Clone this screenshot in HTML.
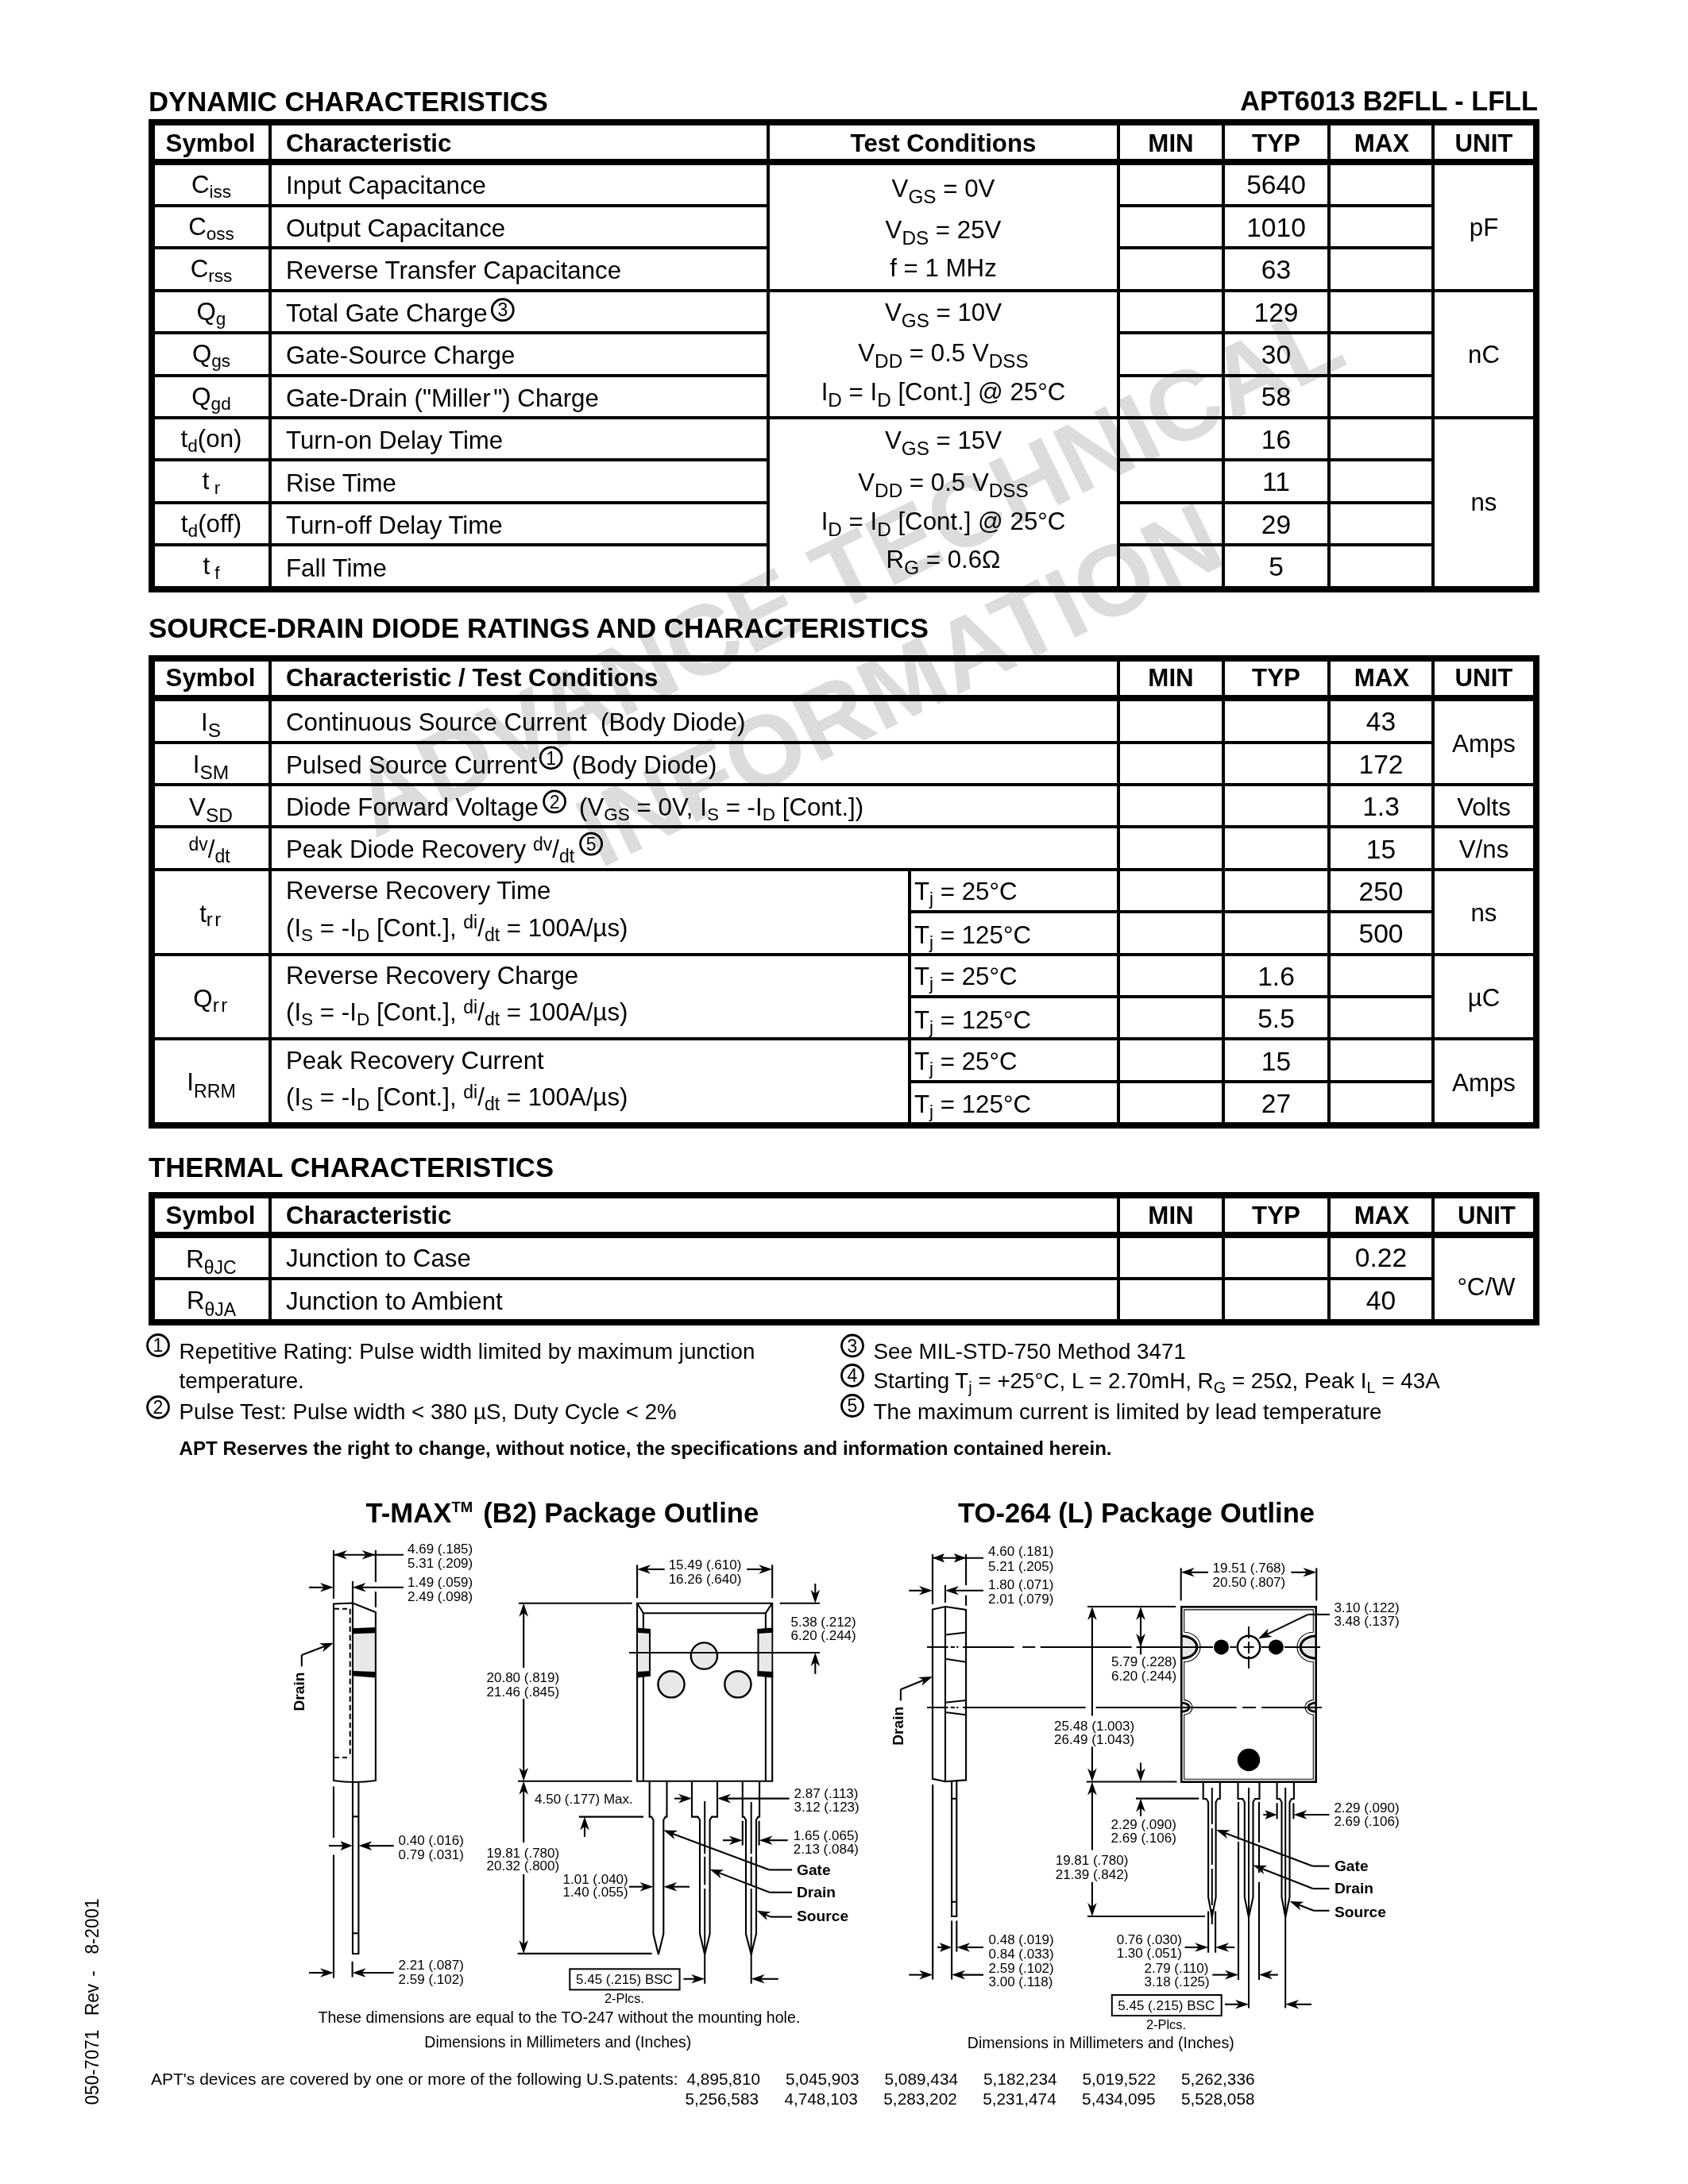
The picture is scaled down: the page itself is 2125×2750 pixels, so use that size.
<!DOCTYPE html>
<html lang="en"><head><meta charset="utf-8"><title>APT6013 B2FLL - LFLL</title>
<style>
html,body{margin:0;padding:0;background:#fff}
body{width:2125px;height:2750px;overflow:hidden;position:relative}
svg{position:absolute;left:0;top:0;display:block;filter:grayscale(1)}
text{font-family:"Liberation Sans",sans-serif;fill:#000;white-space:pre}
</style></head><body>
<svg width="2125" height="2750" viewBox="0 0 2125 2750">
<g transform="translate(471.5,1056) rotate(-26)" fill="#dcdcdc">
<text x="0" y="0" font-size="125" font-weight="bold" fill="#dcdcdc" style="fill:#dcdcdc">ADVANCE TECHNICAL</text>
<text x="238" y="159" font-size="126.3" font-weight="bold" fill="#dcdcdc" style="fill:#dcdcdc">INFORMATION</text>
</g>
<text x="187" y="139.8" font-size="34.7" font-weight="bold">DYNAMIC CHARACTERISTICS</text>
<text x="1936" y="138.6" font-size="34.3" text-anchor="end" font-weight="bold">APT6013 B2FLL - LFLL</text>
<text x="187" y="803.3" font-size="34.87" font-weight="bold">SOURCE-DRAIN DIODE RATINGS AND CHARACTERISTICS</text>
<text x="187" y="1481.8" font-size="34.7" font-weight="bold">THERMAL CHARACTERISTICS</text>
<rect x="187" y="150" width="1751" height="8" fill="#000"/>
<rect x="187" y="200" width="1751" height="8" fill="#000"/>
<rect x="187" y="738" width="1751" height="8" fill="#000"/>
<rect x="187" y="150" width="8" height="596" fill="#000"/>
<rect x="1930" y="150" width="8" height="596" fill="#000"/>
<rect x="338" y="158" width="4" height="580" fill="#000"/>
<rect x="965" y="158" width="4" height="580" fill="#000"/>
<rect x="1406" y="158" width="4" height="580" fill="#000"/>
<rect x="1538" y="158" width="4" height="580" fill="#000"/>
<rect x="1671" y="158" width="4" height="580" fill="#000"/>
<rect x="1802" y="158" width="4" height="580" fill="#000"/>
<rect x="195" y="257" width="770" height="4" fill="#000"/>
<rect x="1410" y="257" width="392" height="4" fill="#000"/>
<rect x="195" y="310" width="770" height="4" fill="#000"/>
<rect x="1410" y="310" width="392" height="4" fill="#000"/>
<rect x="195" y="364" width="1735" height="4" fill="#000"/>
<rect x="195" y="417" width="770" height="4" fill="#000"/>
<rect x="1410" y="417" width="392" height="4" fill="#000"/>
<rect x="195" y="471" width="770" height="4" fill="#000"/>
<rect x="1410" y="471" width="392" height="4" fill="#000"/>
<rect x="195" y="524" width="1735" height="4" fill="#000"/>
<rect x="195" y="577" width="770" height="4" fill="#000"/>
<rect x="1410" y="577" width="392" height="4" fill="#000"/>
<rect x="195" y="631" width="770" height="4" fill="#000"/>
<rect x="1410" y="631" width="392" height="4" fill="#000"/>
<rect x="195" y="684" width="770" height="4" fill="#000"/>
<rect x="1410" y="684" width="392" height="4" fill="#000"/>
<rect x="187" y="825" width="1751" height="8" fill="#000"/>
<rect x="187" y="875" width="1751" height="8" fill="#000"/>
<rect x="187" y="1413" width="1751" height="8" fill="#000"/>
<rect x="187" y="825" width="8" height="596" fill="#000"/>
<rect x="1930" y="825" width="8" height="596" fill="#000"/>
<rect x="338" y="833" width="4" height="580" fill="#000"/>
<rect x="1406" y="833" width="4" height="580" fill="#000"/>
<rect x="1538" y="833" width="4" height="580" fill="#000"/>
<rect x="1671" y="833" width="4" height="580" fill="#000"/>
<rect x="1802" y="833" width="4" height="580" fill="#000"/>
<rect x="1143" y="1097" width="4" height="316" fill="#000"/>
<rect x="195" y="933" width="1607" height="4" fill="#000"/>
<rect x="195" y="986" width="1735" height="4" fill="#000"/>
<rect x="195" y="1039" width="1735" height="4" fill="#000"/>
<rect x="195" y="1093" width="1735" height="4" fill="#000"/>
<rect x="195" y="1200" width="1735" height="4" fill="#000"/>
<rect x="195" y="1306" width="1735" height="4" fill="#000"/>
<rect x="1143" y="1146" width="659" height="4" fill="#000"/>
<rect x="1143" y="1253" width="659" height="4" fill="#000"/>
<rect x="1143" y="1360" width="659" height="4" fill="#000"/>
<rect x="187" y="1501" width="1751" height="8" fill="#000"/>
<rect x="187" y="1551" width="1751" height="8" fill="#000"/>
<rect x="187" y="1661" width="1751" height="8" fill="#000"/>
<rect x="187" y="1501" width="8" height="168" fill="#000"/>
<rect x="1930" y="1501" width="8" height="168" fill="#000"/>
<rect x="338" y="1509" width="4" height="152" fill="#000"/>
<rect x="1406" y="1509" width="4" height="152" fill="#000"/>
<rect x="1538" y="1509" width="4" height="152" fill="#000"/>
<rect x="1671" y="1509" width="4" height="152" fill="#000"/>
<rect x="1802" y="1509" width="4" height="152" fill="#000"/>
<rect x="195" y="1608" width="1607" height="4" fill="#000"/>
<text x="265" y="191" font-size="31.25" text-anchor="middle" font-weight="bold">Symbol</text>
<text x="360" y="191" font-size="31.25" font-weight="bold">Characteristic</text>
<text x="1187.5" y="191" font-size="31.25" text-anchor="middle" font-weight="bold">Test Conditions</text>
<text x="1474" y="191" font-size="31.25" text-anchor="middle" font-weight="bold">MIN</text>
<text x="1606.5" y="191" font-size="31.25" text-anchor="middle" font-weight="bold">TYP</text>
<text x="1739.5" y="191" font-size="31.25" text-anchor="middle" font-weight="bold">MAX</text>
<text x="1868" y="191" font-size="31.25" text-anchor="middle" font-weight="bold">UNIT</text>
<text x="265" y="864" font-size="31.25" text-anchor="middle" font-weight="bold">Symbol</text>
<text x="360" y="864" font-size="31.25" font-weight="bold">Characteristic / Test Conditions</text>
<text x="1474" y="864" font-size="31.25" text-anchor="middle" font-weight="bold">MIN</text>
<text x="1606.5" y="864" font-size="31.25" text-anchor="middle" font-weight="bold">TYP</text>
<text x="1739.5" y="864" font-size="31.25" text-anchor="middle" font-weight="bold">MAX</text>
<text x="1868" y="864" font-size="31.25" text-anchor="middle" font-weight="bold">UNIT</text>
<text x="265" y="1541" font-size="31.25" text-anchor="middle" font-weight="bold">Symbol</text>
<text x="360" y="1541" font-size="31.25" font-weight="bold">Characteristic</text>
<text x="1474" y="1541" font-size="31.25" text-anchor="middle" font-weight="bold">MIN</text>
<text x="1606.5" y="1541" font-size="31.25" text-anchor="middle" font-weight="bold">TYP</text>
<text x="1739.5" y="1541" font-size="31.25" text-anchor="middle" font-weight="bold">MAX</text>
<text x="1871.5" y="1541" font-size="31.25" text-anchor="middle" font-weight="bold">UNIT</text>
<text x="266" y="242.5" font-size="31.25" text-anchor="middle"><tspan font-size="31.25">C</tspan><tspan dy="6" font-size="22.6">iss</tspan></text>
<text x="266" y="295.9" font-size="31.25" text-anchor="middle"><tspan font-size="31.25">C</tspan><tspan dy="6" font-size="22.6">oss</tspan></text>
<text x="266" y="349.3" font-size="31.25" text-anchor="middle"><tspan font-size="31.25">C</tspan><tspan dy="6" font-size="22.6">rss</tspan></text>
<text x="266" y="402.7" font-size="31.25" text-anchor="middle"><tspan font-size="31.25">Q</tspan><tspan dy="6" font-size="22.6">g</tspan></text>
<text x="266" y="456.1" font-size="31.25" text-anchor="middle"><tspan font-size="31.25">Q</tspan><tspan dy="6" font-size="22.6">gs</tspan></text>
<text x="266" y="509.5" font-size="31.25" text-anchor="middle"><tspan font-size="31.25">Q</tspan><tspan dy="6" font-size="22.6">gd</tspan></text>
<text x="266" y="562.9" font-size="31.25" text-anchor="middle"><tspan font-size="31.25">t</tspan><tspan dy="6" font-size="22.6">d</tspan><tspan dy="-6" font-size="31.25">(on)</tspan></text>
<text x="266" y="616.3" font-size="31.25" text-anchor="middle"><tspan font-size="31.25">t</tspan><tspan dy="6" font-size="22.6"> r</tspan></text>
<text x="266" y="669.7" font-size="31.25" text-anchor="middle"><tspan font-size="31.25">t</tspan><tspan dy="6" font-size="22.6">d</tspan><tspan dy="-6" font-size="31.25">(off)</tspan></text>
<text x="266" y="723.1" font-size="31.25" text-anchor="middle"><tspan font-size="31.25">t</tspan><tspan dy="6" font-size="22.6"> f</tspan></text>
<text x="360" y="244.1" font-size="31.25">Input Capacitance</text>
<text x="360" y="297.6" font-size="31.25">Output Capacitance</text>
<text x="360" y="351.1" font-size="31.25">Reverse Transfer Capacitance</text>
<text x="360" y="404.6" font-size="31.25">Total Gate Charge</text>
<text x="360" y="458.1" font-size="31.25">Gate-Source Charge</text>
<text x="360" y="511.6" font-size="31.25">Gate-Drain ("Miller<tspan dx="3.5">")</tspan> Charge</text>
<text x="360" y="565.1" font-size="31.25">Turn-on Delay Time</text>
<text x="360" y="618.6" font-size="31.25">Rise Time</text>
<text x="360" y="672.1" font-size="31.25">Turn-off Delay Time</text>
<text x="360" y="725.6" font-size="31.25">Fall Time</text>
<text x="1606.5" y="244.2" font-size="33.6" text-anchor="middle">5640</text>
<text x="1606.5" y="297.65" font-size="33.6" text-anchor="middle">1010</text>
<text x="1606.5" y="351.1" font-size="33.6" text-anchor="middle">63</text>
<text x="1606.5" y="404.55" font-size="33.6" text-anchor="middle">129</text>
<text x="1606.5" y="458" font-size="33.6" text-anchor="middle">30</text>
<text x="1606.5" y="511.45" font-size="33.6" text-anchor="middle">58</text>
<text x="1606.5" y="564.9" font-size="33.6" text-anchor="middle">16</text>
<text x="1606.5" y="618.35" font-size="33.6" text-anchor="middle">11</text>
<text x="1606.5" y="671.8" font-size="33.6" text-anchor="middle">29</text>
<text x="1606.5" y="725.25" font-size="33.6" text-anchor="middle">5</text>
<text x="1868" y="296.8" font-size="31.25" text-anchor="middle">pF</text>
<text x="1868" y="457.4" font-size="31.25" text-anchor="middle">nC</text>
<text x="1868" y="643" font-size="31.25" text-anchor="middle">ns</text>
<text x="1187.5" y="248.1" font-size="31.25" text-anchor="middle"><tspan font-size="31.25">V</tspan><tspan dy="8" font-size="24.3">GS</tspan><tspan dy="-8" font-size="31.25"> = 0V</tspan></text>
<text x="1187.5" y="299.8" font-size="31.25" text-anchor="middle"><tspan font-size="31.25">V</tspan><tspan dy="8" font-size="24.3">DS</tspan><tspan dy="-8" font-size="31.25"> = 25V</tspan></text>
<text x="1187.5" y="348.3" font-size="31.25" text-anchor="middle">f = 1 MHz</text>
<text x="1187.5" y="403.8" font-size="31.25" text-anchor="middle"><tspan font-size="31.25">V</tspan><tspan dy="8" font-size="24.3">GS</tspan><tspan dy="-8" font-size="31.25"> = 10V</tspan></text>
<text x="1187.5" y="455" font-size="31.25" text-anchor="middle"><tspan font-size="31.25">V</tspan><tspan dy="8" font-size="24.3">DD</tspan><tspan dy="-8" font-size="31.25"> = 0.5 V</tspan><tspan dy="8" font-size="24.3">DSS</tspan></text>
<text x="1187.5" y="504" font-size="31.25" text-anchor="middle"><tspan font-size="31.25">I</tspan><tspan dy="8" font-size="24.3">D</tspan><tspan dy="-8" font-size="31.25"> = I</tspan><tspan dy="8" font-size="24.3">D</tspan><tspan dy="-8" font-size="31.25"> [Cont.] @ 25°C</tspan></text>
<text x="1187.5" y="565.3" font-size="31.25" text-anchor="middle"><tspan font-size="31.25">V</tspan><tspan dy="8" font-size="24.3">GS</tspan><tspan dy="-8" font-size="31.25"> = 15V</tspan></text>
<text x="1187.5" y="617.6" font-size="31.25" text-anchor="middle"><tspan font-size="31.25">V</tspan><tspan dy="8" font-size="24.3">DD</tspan><tspan dy="-8" font-size="31.25"> = 0.5 V</tspan><tspan dy="8" font-size="24.3">DSS</tspan></text>
<text x="1187.5" y="666.6" font-size="31.25" text-anchor="middle"><tspan font-size="31.25">I</tspan><tspan dy="8" font-size="24.3">D</tspan><tspan dy="-8" font-size="31.25"> = I</tspan><tspan dy="8" font-size="24.3">D</tspan><tspan dy="-8" font-size="31.25"> [Cont.] @ 25°C</tspan></text>
<text x="1187.5" y="714.6" font-size="31.25" text-anchor="middle"><tspan font-size="31.25">R</tspan><tspan dy="8" font-size="24.3">G</tspan><tspan dy="-8" font-size="31.25"> = 0.6Ω</tspan></text>
<text x="265.5" y="919.7" font-size="31.25" text-anchor="middle"><tspan font-size="31.25">I</tspan><tspan dy="8.2" font-size="24.5">S</tspan></text>
<text x="265.5" y="973.1" font-size="31.25" text-anchor="middle"><tspan font-size="31.25">I</tspan><tspan dy="8.2" font-size="24.5">SM</tspan></text>
<text x="265.5" y="1026.5" font-size="31.25" text-anchor="middle"><tspan font-size="31.25">V</tspan><tspan dy="8.2" font-size="24.5">SD</tspan></text>
<text x="263.5" y="1080.3" font-size="31.25" text-anchor="middle"><tspan dy="-9.6" font-size="23">dv</tspan><tspan dy="9.6" font-size="31.25">/</tspan><tspan dy="6" font-size="23">dt</tspan></text>
<text x="266" y="1161" font-size="31.25" text-anchor="middle"><tspan font-size="31.25">t</tspan><tspan dy="4.5" font-size="24" letter-spacing="2.5">rr</tspan></text>
<text x="266" y="1268.4" font-size="31.25" text-anchor="middle"><tspan font-size="31.25">Q</tspan><tspan dy="5.3" font-size="24" letter-spacing="2.5">rr</tspan></text>
<text x="266" y="1373.2" font-size="31.25" text-anchor="middle"><tspan font-size="31.25">I</tspan><tspan dy="8.9" font-size="23.2">RRM</tspan></text>
<text x="360" y="920.1" font-size="31.25">Continuous Source Current  (Body Diode)</text>
<text x="360" y="973.5" font-size="31.25">Pulsed Source Current</text>
<text x="720" y="973.5" font-size="31.25">(Body Diode)</text>
<circle cx="693.7" cy="954.3" r="13.5" fill="none" stroke="#000" stroke-width="2.8"/>
<text x="693.7" y="962.58" font-size="23" text-anchor="middle">1</text>
<circle cx="698.1" cy="1009.4" r="13.5" fill="none" stroke="#000" stroke-width="2.8"/>
<text x="698.1" y="1017.68" font-size="23" text-anchor="middle">2</text>
<circle cx="744.1" cy="1062.6" r="13.5" fill="none" stroke="#000" stroke-width="2.8"/>
<text x="744.1" y="1070.88" font-size="23" text-anchor="middle">5</text>
<circle cx="632.8" cy="390.2" r="13.5" fill="none" stroke="#000" stroke-width="2.8"/>
<text x="632.8" y="398.48" font-size="23" text-anchor="middle">3</text>
<text x="360" y="1026.9" font-size="31.25">Diode Forward Voltage</text>
<text x="729" y="1026.9" font-size="31.25"><tspan font-size="31.25">(V</tspan><tspan dy="6" font-size="22.6">GS</tspan><tspan dy="-6" font-size="31.25"> = 0V, I</tspan><tspan dy="6" font-size="22.6">S</tspan><tspan dy="-6" font-size="31.25"> = -I</tspan><tspan dy="6" font-size="22.6">D</tspan><tspan dy="-6" font-size="31.25"> [Cont.])</tspan></text>
<text x="360" y="1080.3" font-size="31.25"><tspan font-size="31.25">Peak Diode Recovery </tspan><tspan dy="-9.6" font-size="23">dv</tspan><tspan dy="9.6" font-size="31.25">/</tspan><tspan dy="6" font-size="23">dt</tspan></text>
<text x="360" y="1132.4" font-size="31.25">Reverse Recovery Time</text>
<text x="360" y="1178.6" font-size="31.25"><tspan font-size="31.25">(I</tspan><tspan dy="6" font-size="22.6">S</tspan><tspan dy="-6" font-size="31.25"> = -I</tspan><tspan dy="6" font-size="22.6">D</tspan><tspan dy="-6" font-size="31.25"> [Cont.], </tspan><tspan dy="-9.6" font-size="23">di</tspan><tspan dy="9.6" font-size="31.25">/</tspan><tspan dy="6" font-size="23">dt</tspan><tspan dy="-6" font-size="31.25"> = 100A/µs)</tspan></text>
<text x="1151" y="1133.1" font-size="31.25"><tspan font-size="31.25">T</tspan><tspan dy="6" font-size="22.6">j</tspan><tspan dy="-6" font-size="31.25"> = 25°C</tspan></text>
<text x="1151" y="1187.7" font-size="31.25"><tspan font-size="31.25">T</tspan><tspan dy="6" font-size="22.6">j</tspan><tspan dy="-6" font-size="31.25"> = 125°C</tspan></text>
<text x="360" y="1239.2" font-size="31.25">Reverse Recovery Charge</text>
<text x="360" y="1285.4" font-size="31.25"><tspan font-size="31.25">(I</tspan><tspan dy="6" font-size="22.6">S</tspan><tspan dy="-6" font-size="31.25"> = -I</tspan><tspan dy="6" font-size="22.6">D</tspan><tspan dy="-6" font-size="31.25"> [Cont.], </tspan><tspan dy="-9.6" font-size="23">di</tspan><tspan dy="9.6" font-size="31.25">/</tspan><tspan dy="6" font-size="23">dt</tspan><tspan dy="-6" font-size="31.25"> = 100A/µs)</tspan></text>
<text x="1151" y="1239.9" font-size="31.25"><tspan font-size="31.25">T</tspan><tspan dy="6" font-size="22.6">j</tspan><tspan dy="-6" font-size="31.25"> = 25°C</tspan></text>
<text x="1151" y="1294.5" font-size="31.25"><tspan font-size="31.25">T</tspan><tspan dy="6" font-size="22.6">j</tspan><tspan dy="-6" font-size="31.25"> = 125°C</tspan></text>
<text x="360" y="1346" font-size="31.25">Peak Recovery Current</text>
<text x="360" y="1392.2" font-size="31.25"><tspan font-size="31.25">(I</tspan><tspan dy="6" font-size="22.6">S</tspan><tspan dy="-6" font-size="31.25"> = -I</tspan><tspan dy="6" font-size="22.6">D</tspan><tspan dy="-6" font-size="31.25"> [Cont.], </tspan><tspan dy="-9.6" font-size="23">di</tspan><tspan dy="9.6" font-size="31.25">/</tspan><tspan dy="6" font-size="23">dt</tspan><tspan dy="-6" font-size="31.25"> = 100A/µs)</tspan></text>
<text x="1151" y="1346.7" font-size="31.25"><tspan font-size="31.25">T</tspan><tspan dy="6" font-size="22.6">j</tspan><tspan dy="-6" font-size="31.25"> = 25°C</tspan></text>
<text x="1151" y="1401.3" font-size="31.25"><tspan font-size="31.25">T</tspan><tspan dy="6" font-size="22.6">j</tspan><tspan dy="-6" font-size="31.25"> = 125°C</tspan></text>
<text x="1738.5" y="920.2" font-size="33.6" text-anchor="middle">43</text>
<text x="1738.5" y="973.65" font-size="33.6" text-anchor="middle">172</text>
<text x="1738.5" y="1027.1" font-size="33.6" text-anchor="middle">1.3</text>
<text x="1738.5" y="1080.55" font-size="33.6" text-anchor="middle">15</text>
<text x="1738.5" y="1134" font-size="33.6" text-anchor="middle">250</text>
<text x="1738.5" y="1187.45" font-size="33.6" text-anchor="middle">500</text>
<text x="1606.5" y="1240.9" font-size="33.6" text-anchor="middle">1.6</text>
<text x="1606.5" y="1294.35" font-size="33.6" text-anchor="middle">5.5</text>
<text x="1606.5" y="1347.8" font-size="33.6" text-anchor="middle">15</text>
<text x="1606.5" y="1401.25" font-size="33.6" text-anchor="middle">27</text>
<text x="1868" y="946.8" font-size="31.25" text-anchor="middle">Amps</text>
<text x="1868" y="1026.9" font-size="31.25" text-anchor="middle">Volts</text>
<text x="1868" y="1080.3" font-size="31.25" text-anchor="middle">V/ns</text>
<text x="1868" y="1160.4" font-size="31.25" text-anchor="middle">ns</text>
<text x="1868" y="1267.2" font-size="31.25" text-anchor="middle">µC</text>
<text x="1868" y="1374" font-size="31.25" text-anchor="middle">Amps</text>
<text x="266" y="1595.5" font-size="31.25" text-anchor="middle"><tspan font-size="31.25">R</tspan><tspan dy="8.9" font-size="23">θJC</tspan></text>
<text x="266" y="1648.3" font-size="31.25" text-anchor="middle"><tspan font-size="31.25">R</tspan><tspan dy="8.9" font-size="23">θJA</tspan></text>
<text x="360" y="1595.1" font-size="31.25">Junction to Case</text>
<text x="360" y="1648.5" font-size="31.25">Junction to Ambient</text>
<text x="1738.5" y="1595.2" font-size="33.6" text-anchor="middle">0.22</text>
<text x="1738.5" y="1648.6" font-size="33.6" text-anchor="middle">40</text>
<text x="1871" y="1630.5" font-size="31.25" text-anchor="middle">°C/W</text>
<circle cx="199" cy="1694" r="13.5" fill="none" stroke="#000" stroke-width="2.8"/>
<text x="199" y="1702.28" font-size="23" text-anchor="middle">1</text>
<text x="225.5" y="1710.7" font-size="27.75">Repetitive Rating: Pulse width limited by maximum junction</text>
<text x="225.5" y="1748.2" font-size="27.75">temperature.</text>
<circle cx="199" cy="1772" r="13.5" fill="none" stroke="#000" stroke-width="2.8"/>
<text x="199" y="1780.28" font-size="23" text-anchor="middle">2</text>
<text x="225.5" y="1787" font-size="27.75">Pulse Test: Pulse width &lt; 380 µS, Duty Cycle &lt; 2%</text>
<circle cx="1073" cy="1694.5" r="13.5" fill="none" stroke="#000" stroke-width="2.8"/>
<text x="1073" y="1702.78" font-size="23" text-anchor="middle">3</text>
<text x="1099.5" y="1710.7" font-size="27.75">See MIL-STD-750 Method 3471</text>
<circle cx="1073" cy="1732" r="13.5" fill="none" stroke="#000" stroke-width="2.8"/>
<text x="1073" y="1740.28" font-size="23" text-anchor="middle">4</text>
<text x="1099.5" y="1748.2" font-size="27.75"><tspan font-size="27.75">Starting T</tspan><tspan dy="6" font-size="20">j</tspan><tspan dy="-6" font-size="27.75"> = +25°C, L = 2.70mH, R</tspan><tspan dy="6" font-size="20">G</tspan><tspan dy="-6" font-size="27.75"> = 25Ω, Peak I</tspan><tspan dy="6" font-size="20">L</tspan><tspan dy="-6" font-size="27.75"> = 43A</tspan></text>
<circle cx="1073" cy="1770" r="13.5" fill="none" stroke="#000" stroke-width="2.8"/>
<text x="1073" y="1778.28" font-size="23" text-anchor="middle">5</text>
<text x="1099.5" y="1787.3" font-size="27.75">The maximum current is limited by lead temperature</text>
<text x="225.5" y="1832" font-size="24.1" font-weight="bold">APT Reserves the right to change, without notice, the specifications and information contained herein.</text>
<text x="190" y="2624.8" font-size="21">APT's devices are covered by one or more of the following U.S.patents:</text>
<text x="864.5" y="2625" font-size="20.8">4,895,810</text>
<text x="862.5" y="2649.5" font-size="20.8">5,256,583</text>
<text x="989" y="2625" font-size="20.8">5,045,903</text>
<text x="987.4" y="2649.5" font-size="20.8">4,748,103</text>
<text x="1113.5" y="2625" font-size="20.8">5,089,434</text>
<text x="1112.3" y="2649.5" font-size="20.8">5,283,202</text>
<text x="1238" y="2625" font-size="20.8">5,182,234</text>
<text x="1237.2" y="2649.5" font-size="20.8">5,231,474</text>
<text x="1362.5" y="2625" font-size="20.8">5,019,522</text>
<text x="1362.1" y="2649.5" font-size="20.8">5,434,095</text>
<text x="1487" y="2625" font-size="20.8">5,262,336</text>
<text x="1487" y="2649.5" font-size="20.8">5,528,058</text>
<g transform="translate(124.2,2650.6) rotate(-90) scale(0.925,1)">
<text x="0" y="0" font-size="24.3">050-7071</text>
<text x="121.7" y="0" font-size="24.3">Rev</text>
<text x="175.1" y="0" font-size="24.3">-</text>
<text x="205.6" y="0" font-size="24.3">8-2001</text>
</g>
<text x="460.5" y="1916.6" font-size="34.7" font-weight="bold">T-MAX<tspan font-size="18.5" dy="-12.6">TM</tspan><tspan dy="12.6" dx="3.5"> (B2) Package Outline</tspan></text>
<text x="1206" y="1916.8" font-size="34.6" font-weight="bold">TO-264 (L) Package Outline</text>
<line x1="420" y1="1952" x2="420" y2="2013" stroke="#000" stroke-width="2.1"/>
<line x1="472.9" y1="1952" x2="472.9" y2="1992" stroke="#000" stroke-width="2.1"/>
<line x1="472.9" y1="2004" x2="472.9" y2="2024" stroke="#000" stroke-width="2.1"/>
<polygon points="444,2056 472.9,2055 472.9,2106 444,2105" fill="#e8e8e8"/>
<polygon points="444,2050.2 472.9,2049 472.9,2056.3 444,2057.3" fill="#000"/>
<polygon points="444,2104 472.9,2105 472.9,2112.5 444,2110.2" fill="#000"/>
<path d="M420 2242 L420 2019.4 L444 2018.5 L472.9 2030 L472.9 2242 Q446 2246 420 2242 Z" stroke="#000" stroke-width="2.1" fill="none"/>
<line x1="444" y1="1991" x2="444" y2="2243" stroke="#000" stroke-width="2.1"/>
<line x1="440.7" y1="2025.8" x2="440.7" y2="2213" stroke="#000" stroke-width="2" stroke-dasharray="7 4"/>
<line x1="421" y1="2025.8" x2="440" y2="2025.8" stroke="#000" stroke-width="2" stroke-dasharray="6 4"/>
<line x1="421" y1="2213" x2="440" y2="2213" stroke="#000" stroke-width="2" stroke-dasharray="6 4"/>
<path d="M444 2243 L444 2460 L451.4 2460 L451.4 2243" stroke="#000" stroke-width="2.1" fill="none" stroke-linejoin="miter"/>
<line x1="443.6" y1="2287.3" x2="451.4" y2="2287.3" stroke="#000" stroke-width="2.1"/>
<line x1="443.6" y1="2434.3" x2="451.4" y2="2434.3" stroke="#000" stroke-width="2.1"/>
<line x1="420" y1="2249.4" x2="420" y2="2314" stroke="#000" stroke-width="2.1"/>
<line x1="420" y1="2335.5" x2="420" y2="2490.7" stroke="#000" stroke-width="2.1"/>
<line x1="443.6" y1="2469.8" x2="443.6" y2="2489.5" stroke="#000" stroke-width="2.1"/>
<line x1="420" y1="1957.8" x2="508" y2="1957.8" stroke="#000" stroke-width="2.1"/>
<polygon points="420.0,1957.8 437.0,1963.6 432.0,1957.8 437.0,1952.0" fill="#000"/>
<polygon points="472.7,1957.8 455.7,1952.0 460.7,1957.8 455.7,1963.6" fill="#000"/>
<text x="513" y="1956.2" font-size="17">4.69 (.185)</text>
<text x="513" y="1973.8" font-size="17">5.31 (.209)</text>
<line x1="389" y1="1998.8" x2="414" y2="1998.8" stroke="#000" stroke-width="2.1"/>
<polygon points="420.0,1998.8 403.0,1993.0 408.0,1998.8 403.0,2004.6" fill="#000"/>
<line x1="508" y1="1998.8" x2="449.6" y2="1998.8" stroke="#000" stroke-width="2.1"/>
<polygon points="443.6,1998.8 460.6,2004.6 455.6,1998.8 460.6,1993.0" fill="#000"/>
<text x="513" y="1997.7" font-size="17">1.49 (.059)</text>
<text x="513" y="2016" font-size="17">2.49 (.098)</text>
<line x1="414" y1="2324.1" x2="437.6" y2="2324.1" stroke="#000" stroke-width="2.1"/>
<polygon points="443.6,2324.1 428.6,2318.3 431.6,2324.1 428.6,2329.9" fill="#000"/>
<line x1="495.7" y1="2324.1" x2="457.4" y2="2324.1" stroke="#000" stroke-width="2.1"/>
<polygon points="451.4,2324.1 468.4,2329.9 463.4,2324.1 468.4,2318.3" fill="#000"/>
<text x="501.6" y="2322.7" font-size="17">0.40 (.016)</text>
<text x="501.6" y="2341" font-size="17">0.79 (.031)</text>
<line x1="389" y1="2484" x2="414" y2="2484" stroke="#000" stroke-width="2.1"/>
<polygon points="420.0,2484.0 403.0,2478.2 408.0,2484.0 403.0,2489.8" fill="#000"/>
<line x1="495.7" y1="2484" x2="449.6" y2="2484" stroke="#000" stroke-width="2.1"/>
<polygon points="443.6,2484.0 460.6,2489.8 455.6,2484.0 460.6,2478.2" fill="#000"/>
<text x="501.6" y="2480.1" font-size="17">2.21 (.087)</text>
<text x="501.6" y="2498.1" font-size="17">2.59 (.102)</text>
<text transform="translate(382.5,2154.5) rotate(-90)" font-size="19.2" font-weight="bold">Drain</text>
<path d="M379.8 2098.3 L379.8 2084" stroke="#000" stroke-width="2.1" fill="none" stroke-linejoin="miter"/>
<line x1="379.8" y1="2084" x2="414.392" y2="2070.83" stroke="#000" stroke-width="2.1"/>
<polygon points="420.0,2068.7 402.0,2069.3 408.8,2073.0 406.2,2080.2" fill="#000"/>
<line x1="653" y1="2018.7" x2="795.7" y2="2018.7" stroke="#000" stroke-width="2.1"/>
<line x1="652" y1="2242.8" x2="795.7" y2="2242.8" stroke="#000" stroke-width="2.1"/>
<line x1="659.2" y1="2024" x2="659.2" y2="2100" stroke="#000" stroke-width="2.1"/>
<line x1="659.2" y1="2139" x2="659.2" y2="2237" stroke="#000" stroke-width="2.1"/>
<polygon points="659.2,2018.7 653.4,2035.7 659.2,2030.7 665.0,2035.7" fill="#000"/>
<polygon points="659.2,2242.8 665.0,2225.8 659.2,2230.8 653.4,2225.8" fill="#000"/>
<text x="612.5" y="2118.1" font-size="17">20.80 (.819)</text>
<text x="612.5" y="2135.7" font-size="17">21.46 (.845)</text>
<line x1="659.2" y1="2249" x2="659.2" y2="2320" stroke="#000" stroke-width="2.1"/>
<line x1="659.2" y1="2360" x2="659.2" y2="2454" stroke="#000" stroke-width="2.1"/>
<polygon points="659.2,2242.8 653.4,2259.8 659.2,2254.8 665.0,2259.8" fill="#000"/>
<polygon points="659.2,2459.9 665.0,2442.9 659.2,2447.9 653.4,2442.9" fill="#000"/>
<text x="612.5" y="2338.6" font-size="17">19.81 (.780)</text>
<text x="612.5" y="2355.4" font-size="17">20.32 (.800)</text>
<line x1="651.6" y1="2459.9" x2="820.6" y2="2459.9" stroke="#000" stroke-width="2.1"/>
<text x="673" y="2271.1" font-size="17">4.50 (.177) Max.</text>
<line x1="728.8" y1="2287.6" x2="810" y2="2287.6" stroke="#000" stroke-width="2.1"/>
<line x1="736" y1="2313" x2="736" y2="2293.6" stroke="#000" stroke-width="2.1"/>
<polygon points="736.0,2287.6 730.2,2304.6 736.0,2299.6 741.8,2304.6" fill="#000"/>
<text x="708.5" y="2371.5" font-size="17">1.01 (.040)</text>
<text x="708.5" y="2388.3" font-size="17">1.40 (.055)</text>
<line x1="792" y1="2375.7" x2="816.5" y2="2375.7" stroke="#000" stroke-width="2.1"/>
<polygon points="822.5,2375.7 805.5,2369.9 810.5,2375.7 805.5,2381.5" fill="#000"/>
<line x1="868" y1="2375.7" x2="841.3" y2="2375.7" stroke="#000" stroke-width="2.1"/>
<polygon points="835.3,2375.7 852.3,2381.5 847.3,2375.7 852.3,2369.9" fill="#000"/>
<line x1="802.1" y1="1970.3" x2="802.1" y2="2012.3" stroke="#000" stroke-width="2.1"/>
<line x1="972.2" y1="1970.3" x2="972.2" y2="2012.3" stroke="#000" stroke-width="2.1"/>
<line x1="836.7" y1="1976" x2="808.1" y2="1976" stroke="#000" stroke-width="2.1"/>
<polygon points="802.1,1976.0 819.1,1981.8 814.1,1976.0 819.1,1970.2" fill="#000"/>
<line x1="940.2" y1="1976" x2="966.2" y2="1976" stroke="#000" stroke-width="2.1"/>
<polygon points="972.2,1976.0 955.2,1970.2 960.2,1976.0 955.2,1981.8" fill="#000"/>
<text x="887.5" y="1976.3" font-size="17" text-anchor="middle">15.49 (.610)</text>
<text x="887.5" y="1993.5" font-size="17" text-anchor="middle">16.26 (.640)</text>
<path d="M802.1 2018.7 L972.2 2018.7 L972.2 2242.8 L802.1 2242.8 Z" stroke="#000" stroke-width="2.1" fill="none" stroke-linejoin="miter"/>
<path d="M809.9 2242.8 L809.9 2031.2 L963.9 2031.2 L963.9 2242.8" stroke="#000" stroke-width="2.1" fill="none" stroke-linejoin="miter"/>
<line x1="802.1" y1="2018.7" x2="809.9" y2="2031.2" stroke="#000" stroke-width="2.1"/>
<line x1="972.2" y1="2018.7" x2="963.9" y2="2031.2" stroke="#000" stroke-width="2.1"/>
<rect x="803" y="2054" width="14.5" height="52" fill="#e8e8e8"/>
<rect x="955" y="2054" width="16.3" height="52" fill="#e8e8e8"/>
<polygon points="801,2049.4 819,2051 819,2057 801,2055.8" fill="#000"/>
<polygon points="801,2105 819,2104 819,2110.6 801,2112.7" fill="#000"/>
<polygon points="953.5,2051 973.2,2049.4 973.2,2055.8 953.5,2057" fill="#000"/>
<polygon points="953.5,2104 973.2,2105 973.2,2112.7 953.5,2110.6" fill="#000"/>
<line x1="818" y1="2051" x2="818" y2="2110.6" stroke="#000" stroke-width="2"/>
<line x1="954.5" y1="2051" x2="954.5" y2="2110.6" stroke="#000" stroke-width="2"/>
<circle cx="886.4" cy="2085" r="16.6" fill="#e8e8e8" stroke="#000" stroke-width="2.4"/>
<circle cx="845" cy="2120.8" r="16.6" fill="#e8e8e8" stroke="#000" stroke-width="2.4"/>
<circle cx="928.9" cy="2120.8" r="16.6" fill="#e8e8e8" stroke="#000" stroke-width="2.4"/>
<line x1="792.1" y1="2081" x2="1032" y2="2081" stroke="#000" stroke-width="2"/>
<line x1="981.7" y1="2018.7" x2="1032" y2="2018.7" stroke="#000" stroke-width="2.1"/>
<line x1="1026.3" y1="1994" x2="1026.3" y2="2012.7" stroke="#000" stroke-width="2.1"/>
<polygon points="1026.3,2018.7 1032.1,2001.7 1026.3,2006.7 1020.5,2001.7" fill="#000"/>
<line x1="1026.3" y1="2107.8" x2="1026.3" y2="2087" stroke="#000" stroke-width="2.1"/>
<polygon points="1026.3,2081.0 1020.5,2098.0 1026.3,2093.0 1032.1,2098.0" fill="#000"/>
<text x="995.5" y="2047.9" font-size="17">5.38 (.212)</text>
<text x="995.5" y="2064.7" font-size="17">6.20 (.244)</text>
<path d="M817.7 2242.8 L817.7 2287.6 L820 2287.6 L822.5 2291.5 L822.5 2435 L828.9 2461 L835.3 2435 L835.3 2291.5 L837.8 2287.6 L839.5 2287.6 L839.5 2242.8" stroke="#000" stroke-width="2.1" fill="none" stroke-linejoin="miter"/>
<path d="M871 2242.8 L871 2287.6 L878.5 2287.6 L881 2291.5 L881 2435 L887.2 2461 L893.6 2435 L893.6 2291.5 L896.1 2287.6 L903 2287.6 L903 2242.8" stroke="#000" stroke-width="2.1" fill="none" stroke-linejoin="miter"/>
<path d="M934.8 2242.8 L934.8 2287.6 L936.5 2287.6 L939 2291.5 L939 2435 L945.7 2461 L952 2435 L952 2291.5 L954.5 2287.6 L956.1 2287.6 L956.1 2242.8" stroke="#000" stroke-width="2.1" fill="none" stroke-linejoin="miter"/>
<line x1="887.2" y1="2268" x2="887.2" y2="2334.3" stroke="#000" stroke-width="2"/>
<line x1="887.2" y1="2337.8" x2="887.2" y2="2373.4" stroke="#000" stroke-width="2"/>
<line x1="887.2" y1="2378" x2="887.2" y2="2497.8" stroke="#000" stroke-width="2"/>
<line x1="945.7" y1="2269" x2="945.7" y2="2334.3" stroke="#000" stroke-width="2"/>
<line x1="945.7" y1="2337.8" x2="945.7" y2="2373.4" stroke="#000" stroke-width="2"/>
<line x1="945.7" y1="2378" x2="945.7" y2="2497.8" stroke="#000" stroke-width="2"/>
<line x1="849" y1="2264.6" x2="865" y2="2264.6" stroke="#000" stroke-width="2.1"/>
<polygon points="871.0,2264.6 854.0,2258.8 859.0,2264.6 854.0,2270.4" fill="#000"/>
<line x1="993.6" y1="2264.6" x2="909" y2="2264.6" stroke="#000" stroke-width="2.1"/>
<polygon points="903.0,2264.6 920.0,2270.4 915.0,2264.6 920.0,2258.8" fill="#000"/>
<text x="999.5" y="2263.5" font-size="17">2.87 (.113)</text>
<text x="999.5" y="2280.8" font-size="17">3.12 (.123)</text>
<line x1="934.8" y1="2292.8" x2="934.8" y2="2323.6" stroke="#000" stroke-width="2.1"/>
<line x1="955.6" y1="2292.8" x2="955.6" y2="2323.6" stroke="#000" stroke-width="2.1"/>
<line x1="910" y1="2317.2" x2="928.8" y2="2317.2" stroke="#000" stroke-width="2.1"/>
<polygon points="934.8,2317.2 917.8,2311.4 922.8,2317.2 917.8,2323.0" fill="#000"/>
<line x1="991.7" y1="2317.2" x2="961.6" y2="2317.2" stroke="#000" stroke-width="2.1"/>
<polygon points="955.6,2317.2 972.6,2323.0 967.6,2317.2 972.6,2311.4" fill="#000"/>
<text x="998.8" y="2316.6" font-size="17">1.65 (.065)</text>
<text x="998.8" y="2333.9" font-size="17">2.13 (.084)</text>
<text x="1003" y="2360.7" font-size="19.2" font-weight="bold">Gate</text>
<text x="1003" y="2388.8" font-size="19.2" font-weight="bold">Drain</text>
<text x="1003" y="2419.2" font-size="19.2" font-weight="bold">Source</text>
<line x1="997.1" y1="2354.4" x2="968.7" y2="2354.4" stroke="#000" stroke-width="2.1"/>
<line x1="968.7" y1="2354.4" x2="840.921" y2="2306.7" stroke="#000" stroke-width="2.1"/>
<polygon points="835.3,2304.6 849.2,2316.0 846.5,2308.8 853.3,2305.1" fill="#000"/>
<line x1="997.1" y1="2382.8" x2="968.7" y2="2382.8" stroke="#000" stroke-width="2.1"/>
<line x1="968.7" y1="2382.8" x2="899.195" y2="2355.87" stroke="#000" stroke-width="2.1"/>
<polygon points="893.6,2353.7 907.4,2365.3 904.8,2358.0 911.5,2354.4" fill="#000"/>
<line x1="997.1" y1="2413.6" x2="969.9" y2="2413.6" stroke="#000" stroke-width="2.1"/>
<line x1="969.9" y1="2413.6" x2="958.07" y2="2408.27" stroke="#000" stroke-width="2.1"/>
<polygon points="952.6,2405.8 965.7,2418.1 963.5,2410.7 970.5,2407.5" fill="#000"/>
<rect x="717.3" y="2479.3" width="138.3" height="26.1" fill="none" stroke="#000" stroke-width="2"/>
<text x="725" y="2498.1" font-size="17">5.45 (.215) BSC</text>
<line x1="860.4" y1="2491.8" x2="881.2" y2="2491.8" stroke="#000" stroke-width="2.1"/>
<polygon points="887.2,2491.8 870.2,2486.0 875.2,2491.8 870.2,2497.6" fill="#000"/>
<line x1="979.8" y1="2491.8" x2="951.7" y2="2491.8" stroke="#000" stroke-width="2.1"/>
<polygon points="945.7,2491.8 962.7,2497.6 957.7,2491.8 962.7,2486.0" fill="#000"/>
<text x="760.9" y="2521.8" font-size="16.4">2-Plcs.</text>
<text x="400.4" y="2547.2" font-size="19.64">These dimensions are equal to the TO-247 without the mounting hole.</text>
<text x="534.3" y="2578" font-size="19.57">Dimensions in Millimeters and (Inches)</text>
<line x1="1174" y1="1957" x2="1174" y2="2020" stroke="#000" stroke-width="2.1"/>
<line x1="1190" y1="1996" x2="1190" y2="2018" stroke="#000" stroke-width="2.1"/>
<line x1="1216.1" y1="1957" x2="1216.1" y2="1996" stroke="#000" stroke-width="2.1"/>
<line x1="1216.1" y1="2008.7" x2="1216.1" y2="2021.8" stroke="#000" stroke-width="2.1"/>
<path d="M1174 2026.5 L1190 2023 L1216.1 2027 L1216.1 2241.4 L1190 2243.3 L1174 2239.8 Z" stroke="#000" stroke-width="2.1" fill="none"/>
<line x1="1190" y1="2023" x2="1190" y2="2243.3" stroke="#000" stroke-width="2.1"/>
<line x1="1190" y1="2058.5" x2="1216.1" y2="2055.6" stroke="#000" stroke-width="2"/>
<line x1="1190" y1="2088.8" x2="1216.1" y2="2092.8" stroke="#000" stroke-width="2"/>
<line x1="1190" y1="2143.8" x2="1216.1" y2="2141" stroke="#000" stroke-width="2"/>
<line x1="1190" y1="2156.1" x2="1216.1" y2="2159.2" stroke="#000" stroke-width="2"/>
<path d="M1198.1 2243 L1198.1 2413 L1204.3 2413 L1204.3 2243" stroke="#000" stroke-width="2.1" fill="none" stroke-linejoin="miter"/>
<line x1="1198.1" y1="2264.8" x2="1204.3" y2="2264.8" stroke="#000" stroke-width="2.1"/>
<line x1="1198.1" y1="2394.7" x2="1204.3" y2="2394.7" stroke="#000" stroke-width="2.1"/>
<line x1="1198.1" y1="2418.4" x2="1198.1" y2="2492.6" stroke="#000" stroke-width="2.1"/>
<line x1="1204.3" y1="2418.4" x2="1204.3" y2="2457.5" stroke="#000" stroke-width="2.1"/>
<line x1="1174.2" y1="2247" x2="1174.2" y2="2492.6" stroke="#000" stroke-width="2.1"/>
<line x1="1174" y1="1961.8" x2="1238" y2="1961.8" stroke="#000" stroke-width="2.1"/>
<polygon points="1174.0,1961.8 1189.0,1967.6 1186.0,1961.8 1189.0,1956.0" fill="#000"/>
<polygon points="1216.1,1961.8 1201.1,1956.0 1204.1,1961.8 1201.1,1967.6" fill="#000"/>
<text x="1244.1" y="1959.3" font-size="17">4.60 (.181)</text>
<text x="1244.1" y="1977.5" font-size="17">5.21 (.205)</text>
<line x1="1144.3" y1="2002.8" x2="1168" y2="2002.8" stroke="#000" stroke-width="2.1"/>
<polygon points="1174.0,2002.8 1157.0,1997.0 1162.0,2002.8 1157.0,2008.6" fill="#000"/>
<line x1="1238" y1="2002.8" x2="1196" y2="2002.8" stroke="#000" stroke-width="2.1"/>
<polygon points="1190.0,2002.8 1207.0,2008.6 1202.0,2002.8 1207.0,1997.0" fill="#000"/>
<text x="1244.1" y="2001.2" font-size="17">1.80 (.071)</text>
<text x="1244.1" y="2018.5" font-size="17">2.01 (.079)</text>
<line x1="1180" y1="2452" x2="1192.1" y2="2452" stroke="#000" stroke-width="2.1"/>
<polygon points="1198.1,2452.0 1183.1,2446.2 1186.1,2452.0 1183.1,2457.8" fill="#000"/>
<line x1="1238" y1="2452" x2="1210.3" y2="2452" stroke="#000" stroke-width="2.1"/>
<polygon points="1204.3,2452.0 1221.3,2457.8 1216.3,2452.0 1221.3,2446.2" fill="#000"/>
<line x1="1144.3" y1="2486.6" x2="1168.2" y2="2486.6" stroke="#000" stroke-width="2.1"/>
<polygon points="1174.2,2486.6 1157.2,2480.8 1162.2,2486.6 1157.2,2492.4" fill="#000"/>
<line x1="1238" y1="2486.6" x2="1204.1" y2="2486.6" stroke="#000" stroke-width="2.1"/>
<polygon points="1198.1,2486.6 1215.1,2492.4 1210.1,2486.6 1215.1,2480.8" fill="#000"/>
<text x="1244.5" y="2448.1" font-size="17">0.48 (.019)</text>
<text x="1244.5" y="2466.1" font-size="17">0.84 (.033)</text>
<text x="1244.5" y="2483.8" font-size="17">2.59 (.102)</text>
<text x="1244.5" y="2500.9" font-size="17">3.00 (.118)</text>
<text transform="translate(1137,2197.8) rotate(-90)" font-size="19.2" font-weight="bold">Drain</text>
<path d="M1133.9 2141.4 L1133.9 2127.2" stroke="#000" stroke-width="2.1" fill="none" stroke-linejoin="miter"/>
<line x1="1133.9" y1="2127.2" x2="1168.44" y2="2113.25" stroke="#000" stroke-width="2.1"/>
<polygon points="1174.0,2111.0 1156.1,2112.0 1162.9,2115.5 1160.4,2122.7" fill="#000"/>
<line x1="1369" y1="2023" x2="1480.3" y2="2023" stroke="#000" stroke-width="2.1"/>
<line x1="1367.8" y1="2243.5" x2="1481.5" y2="2243.5" stroke="#000" stroke-width="2.1"/>
<line x1="1374.9" y1="2029" x2="1374.9" y2="2160.4" stroke="#000" stroke-width="2.1"/>
<line x1="1374.9" y1="2199.5" x2="1374.9" y2="2238" stroke="#000" stroke-width="2.1"/>
<polygon points="1374.9,2023.0 1369.1,2040.0 1374.9,2035.0 1380.7,2040.0" fill="#000"/>
<polygon points="1374.9,2243.5 1380.7,2226.5 1374.9,2231.5 1369.1,2226.5" fill="#000"/>
<text x="1327" y="2178.5" font-size="17">25.48 (1.003)</text>
<text x="1327" y="2195.5" font-size="17">26.49 (1.043)</text>
<line x1="1436" y1="2029" x2="1436" y2="2083.4" stroke="#000" stroke-width="2.1"/>
<polygon points="1436.0,2023.0 1430.2,2040.0 1436.0,2035.0 1441.8,2040.0" fill="#000"/>
<polygon points="1436.0,2073.9 1441.8,2056.9 1436.0,2061.9 1430.2,2056.9" fill="#000"/>
<text x="1399" y="2098.4" font-size="17">5.79 (.228)</text>
<text x="1399" y="2116.2" font-size="17">6.20 (.244)</text>
<line x1="1436" y1="2219.6" x2="1436" y2="2237.5" stroke="#000" stroke-width="2.1"/>
<polygon points="1436.0,2243.5 1441.8,2226.5 1436.0,2231.5 1430.2,2226.5" fill="#000"/>
<line x1="1430" y1="2264.6" x2="1509.2" y2="2264.6" stroke="#000" stroke-width="2.1"/>
<line x1="1436" y1="2286.9" x2="1436" y2="2270.6" stroke="#000" stroke-width="2.1"/>
<polygon points="1436.0,2264.6 1430.2,2281.6 1436.0,2276.6 1441.8,2281.6" fill="#000"/>
<text x="1398.6" y="2303.1" font-size="17">2.29 (.090)</text>
<text x="1398.6" y="2320.4" font-size="17">2.69 (.106)</text>
<line x1="1374.9" y1="2249" x2="1374.9" y2="2329.5" stroke="#000" stroke-width="2.1"/>
<line x1="1374.9" y1="2369.8" x2="1374.9" y2="2407" stroke="#000" stroke-width="2.1"/>
<polygon points="1374.9,2243.5 1369.1,2260.5 1374.9,2255.5 1380.7,2260.5" fill="#000"/>
<polygon points="1374.9,2413.0 1380.7,2396.0 1374.9,2401.0 1369.1,2396.0" fill="#000"/>
<text x="1328.7" y="2348.1" font-size="17">19.81 (.780)</text>
<text x="1328.7" y="2365.8" font-size="17">21.39 (.842)</text>
<line x1="1369" y1="2413" x2="1517" y2="2413" stroke="#000" stroke-width="2.1"/>
<line x1="1486.7" y1="1974.4" x2="1486.7" y2="2015.4" stroke="#000" stroke-width="2.1"/>
<line x1="1657.3" y1="1974.4" x2="1657.3" y2="2015.4" stroke="#000" stroke-width="2.1"/>
<line x1="1521" y1="1979.8" x2="1492.7" y2="1979.8" stroke="#000" stroke-width="2.1"/>
<polygon points="1486.7,1979.8 1503.7,1985.6 1498.7,1979.8 1503.7,1974.0" fill="#000"/>
<line x1="1625.4" y1="1979.8" x2="1651.3" y2="1979.8" stroke="#000" stroke-width="2.1"/>
<polygon points="1657.3,1979.8 1640.3,1974.0 1645.3,1979.8 1640.3,1985.6" fill="#000"/>
<text x="1572.4" y="1979.9" font-size="17" text-anchor="middle">19.51 (.768)</text>
<text x="1572.4" y="1997.7" font-size="17" text-anchor="middle">20.50 (.807)</text>
<path d="M1487.3 2060 A19.5 14.05 0 0 1 1487.3 2088.1 Z" fill="#e8e8e8"/>
<path d="M1487.3 2144.2 A9.8 5.6 0 0 1 1487.3 2155.4 Z" fill="#e8e8e8"/>
<path d="M1656.7 2060 A19.5 14.05 0 0 0 1656.7 2088.1 Z" fill="#e8e8e8"/>
<path d="M1656.7 2144.2 A9.8 5.6 0 0 0 1656.7 2155.4 Z" fill="#e8e8e8"/>
<rect x="1487.3" y="2023.3" width="169.4000000000001" height="220.4" fill="none" stroke="#000" stroke-width="2.6"/>
<path d="M1487.3 2060 A19.5 14.05 0 0 1 1487.3 2088.1" stroke="#000" stroke-width="3.1" fill="none"/>
<path d="M1487.3 2144.2 A9.8 5.6 0 0 1 1487.3 2155.4" stroke="#000" stroke-width="2.8" fill="none"/>
<path d="M1656.7 2060 A19.5 14.05 0 0 0 1656.7 2088.1" stroke="#000" stroke-width="3.1" fill="none"/>
<path d="M1656.7 2144.2 A9.8 5.6 0 0 0 1656.7 2155.4" stroke="#000" stroke-width="2.8" fill="none"/>
<path d="M1490.7 2055.2 L1490.7 2026.9 L1653.3 2026.9 L1653.3 2055.2 A20.3 18.65 0 0 0 1653.3 2092.5 L1653.3 2140.6 A10.3 9.2 0 0 0 1653.3 2159 L1653.3 2240.3 L1490.7 2240.3 L1490.7 2159 A10.3 9.2 0 0 0 1490.7 2140.6 L1490.7 2092.5 A20.3 18.65 0 0 0 1490.7 2055.2" stroke="#000" stroke-width="1.1" fill="none"/>
<circle cx="1537.5" cy="2073.9" r="9.5" fill="#000"/><circle cx="1606.4" cy="2073.9" r="9.5" fill="#000"/>
<circle cx="1572" cy="2073.9" r="14.2" fill="#fff" stroke="#000" stroke-width="2.5"/>
<line x1="1572" y1="2048.1" x2="1572" y2="2063" stroke="#000" stroke-width="2"/>
<line x1="1572" y1="2067" x2="1572" y2="2082" stroke="#000" stroke-width="2"/>
<line x1="1572" y1="2085.2" x2="1572" y2="2100.7" stroke="#000" stroke-width="2"/>
<line x1="1565.4" y1="2073.9" x2="1578.7" y2="2073.9" stroke="#000" stroke-width="2"/>
<circle cx="1572" cy="2216" r="14.2" fill="#000"/>
<line x1="1167" y1="2073.9" x2="1193.6" y2="2073.9" stroke="#000" stroke-width="2"/>
<line x1="1196.7" y1="2073.9" x2="1202" y2="2073.9" stroke="#000" stroke-width="2"/>
<line x1="1204.2" y1="2073.9" x2="1206.4" y2="2073.9" stroke="#000" stroke-width="2"/>
<line x1="1212.2" y1="2073.9" x2="1276.5" y2="2073.9" stroke="#000" stroke-width="2"/>
<line x1="1287.2" y1="2073.9" x2="1303.3" y2="2073.9" stroke="#000" stroke-width="2"/>
<line x1="1309.7" y1="2073.9" x2="1424.6" y2="2073.9" stroke="#000" stroke-width="2"/>
<line x1="1430.6" y1="2073.9" x2="1527" y2="2073.9" stroke="#000" stroke-width="2"/>
<line x1="1548.3" y1="2073.9" x2="1556.6" y2="2073.9" stroke="#000" stroke-width="2"/>
<line x1="1588" y1="2073.9" x2="1597" y2="2073.9" stroke="#000" stroke-width="2"/>
<line x1="1617" y1="2073.9" x2="1662" y2="2073.9" stroke="#000" stroke-width="2"/>
<line x1="1167" y1="2150" x2="1193.6" y2="2150" stroke="#000" stroke-width="2"/>
<line x1="1196.7" y1="2150" x2="1202" y2="2150" stroke="#000" stroke-width="2"/>
<line x1="1204.2" y1="2150" x2="1206.4" y2="2150" stroke="#000" stroke-width="2"/>
<line x1="1212.2" y1="2150" x2="1366.6" y2="2150" stroke="#000" stroke-width="2"/>
<line x1="1379.6" y1="2150" x2="1556.6" y2="2150" stroke="#000" stroke-width="2"/>
<line x1="1564.2" y1="2150" x2="1581" y2="2150" stroke="#000" stroke-width="2"/>
<line x1="1588.2" y1="2150" x2="1664" y2="2150" stroke="#000" stroke-width="2"/>
<text x="1679.4" y="2030.4" font-size="17">3.10 (.122)</text>
<text x="1679.4" y="2047.4" font-size="17">3.48 (.137)</text>
<line x1="1674" y1="2032.9" x2="1646.7" y2="2032.9" stroke="#000" stroke-width="2.1"/>
<line x1="1646.7" y1="2032.9" x2="1589.3" y2="2060.59" stroke="#000" stroke-width="2.1"/>
<polygon points="1583.9,2063.2 1601.7,2061.0 1594.7,2058.0 1596.7,2050.6" fill="#000"/>
<path d="M1514.7 2243.8 L1514.7 2265 L1518.6 2265 L1521.1 2269 L1521.1 2389 L1525.8 2414 L1530.6 2389 L1530.6 2269 L1533.1 2265 L1535.8 2265 L1535.8 2243.8" stroke="#000" stroke-width="2.1" fill="none" stroke-linejoin="miter"/>
<path d="M1558.5 2243.8 L1558.5 2265 L1564.3 2265 L1566.8 2269 L1566.8 2389 L1572 2414 L1577.5 2389 L1577.5 2269 L1580 2265 L1585.5 2265 L1585.5 2243.8" stroke="#000" stroke-width="2.1" fill="none" stroke-linejoin="miter"/>
<path d="M1607.6 2243.8 L1607.6 2265 L1611 2265 L1613.5 2269 L1613.5 2389 L1618.2 2414 L1623.5 2389 L1623.5 2269 L1626 2265 L1628.9 2265 L1628.9 2243.8" stroke="#000" stroke-width="2.1" fill="none" stroke-linejoin="miter"/>
<line x1="1525.8" y1="2251" x2="1525.8" y2="2423" stroke="#000" stroke-width="2" stroke-dasharray="46 5"/>
<line x1="1572" y1="2251" x2="1572" y2="2528.6" stroke="#000" stroke-width="2"/>
<line x1="1618.2" y1="2251" x2="1618.2" y2="2528.6" stroke="#000" stroke-width="2"/>
<line x1="1521.1" y1="2406.5" x2="1521.1" y2="2458.7" stroke="#000" stroke-width="2.1"/>
<line x1="1530.1" y1="2406.5" x2="1530.1" y2="2458.7" stroke="#000" stroke-width="2.1"/>
<line x1="1559" y1="2269" x2="1559" y2="2316.5" stroke="#000" stroke-width="2.1"/>
<line x1="1559" y1="2319" x2="1559" y2="2493" stroke="#000" stroke-width="2.1"/>
<line x1="1585" y1="2269" x2="1585" y2="2320" stroke="#000" stroke-width="2.1"/>
<line x1="1585" y1="2323.6" x2="1585" y2="2358" stroke="#000" stroke-width="2.1"/>
<line x1="1585" y1="2369.8" x2="1585" y2="2493" stroke="#000" stroke-width="2.1"/>
<line x1="1607.6" y1="2270.3" x2="1607.6" y2="2290.4" stroke="#000" stroke-width="2.1"/>
<line x1="1628.4" y1="2270.3" x2="1628.4" y2="2290.4" stroke="#000" stroke-width="2.1"/>
<line x1="1590.3" y1="2285" x2="1601.6" y2="2285" stroke="#000" stroke-width="2.1"/>
<polygon points="1607.6,2285.0 1592.6,2279.2 1595.6,2285.0 1592.6,2290.8" fill="#000"/>
<line x1="1673.5" y1="2285" x2="1634.4" y2="2285" stroke="#000" stroke-width="2.1"/>
<polygon points="1628.4,2285.0 1645.4,2290.8 1640.4,2285.0 1645.4,2279.2" fill="#000"/>
<text x="1679.4" y="2281.8" font-size="17">2.29 (.090)</text>
<text x="1679.4" y="2299" font-size="17">2.69 (.106)</text>
<text x="1679.9" y="2355.7" font-size="19.2" font-weight="bold">Gate</text>
<text x="1679.9" y="2383.6" font-size="19.2" font-weight="bold">Drain</text>
<text x="1679.9" y="2413.7" font-size="19.2" font-weight="bold">Source</text>
<line x1="1673.5" y1="2349.7" x2="1652.6" y2="2349.7" stroke="#000" stroke-width="2.1"/>
<line x1="1652.6" y1="2349.7" x2="1536.61" y2="2306.01" stroke="#000" stroke-width="2.1"/>
<polygon points="1531.0,2303.9 1544.9,2315.3 1542.2,2308.1 1549.0,2304.5" fill="#000"/>
<line x1="1673.5" y1="2378.1" x2="1652.6" y2="2378.1" stroke="#000" stroke-width="2.1"/>
<line x1="1652.6" y1="2378.1" x2="1583.08" y2="2350.7" stroke="#000" stroke-width="2.1"/>
<polygon points="1577.5,2348.5 1591.2,2360.1 1588.7,2352.9 1595.4,2349.3" fill="#000"/>
<line x1="1673.5" y1="2405.8" x2="1653.8" y2="2405.8" stroke="#000" stroke-width="2.1"/>
<line x1="1653.8" y1="2405.8" x2="1629.09" y2="2396.18" stroke="#000" stroke-width="2.1"/>
<polygon points="1623.5,2394.0 1637.2,2405.6 1634.7,2398.4 1641.4,2394.8" fill="#000"/>
<line x1="1491.5" y1="2452" x2="1515.1" y2="2452" stroke="#000" stroke-width="2.1"/>
<polygon points="1521.1,2452.0 1504.1,2446.2 1509.1,2452.0 1504.1,2457.8" fill="#000"/>
<line x1="1554.3" y1="2452" x2="1536.1" y2="2452" stroke="#000" stroke-width="2.1"/>
<polygon points="1530.1,2452.0 1547.1,2457.8 1542.1,2452.0 1547.1,2446.2" fill="#000"/>
<text x="1405.7" y="2448.1" font-size="17">0.76 (.030)</text>
<text x="1405.7" y="2465.4" font-size="17">1.30 (.051)</text>
<line x1="1526.3" y1="2486.6" x2="1553" y2="2486.6" stroke="#000" stroke-width="2.1"/>
<polygon points="1559.0,2486.6 1542.0,2480.8 1547.0,2486.6 1542.0,2492.4" fill="#000"/>
<line x1="1608.8" y1="2486.6" x2="1591" y2="2486.6" stroke="#000" stroke-width="2.1"/>
<polygon points="1585.0,2486.6 1602.0,2492.4 1597.0,2486.6 1602.0,2480.8" fill="#000"/>
<text x="1440.5" y="2483.8" font-size="17">2.79 (.110)</text>
<text x="1440.5" y="2500.8" font-size="17">3.18 (.125)</text>
<rect x="1399.8" y="2512" width="137.9" height="26" fill="none" stroke="#000" stroke-width="2"/>
<text x="1407.3" y="2530.6" font-size="17">5.45 (.215) BSC</text>
<line x1="1542" y1="2523.8" x2="1566" y2="2523.8" stroke="#000" stroke-width="2.1"/>
<polygon points="1572.0,2523.8 1555.0,2518.0 1560.0,2523.8 1555.0,2529.6" fill="#000"/>
<line x1="1651" y1="2523.8" x2="1624.2" y2="2523.8" stroke="#000" stroke-width="2.1"/>
<polygon points="1618.2,2523.8 1635.2,2529.6 1630.2,2523.8 1635.2,2518.0" fill="#000"/>
<text x="1442.9" y="2555" font-size="16.4">2-Plcs.</text>
<text x="1217.8" y="2578.6" font-size="19.57">Dimensions in Millimeters and (Inches)</text>
</svg>
</body></html>
